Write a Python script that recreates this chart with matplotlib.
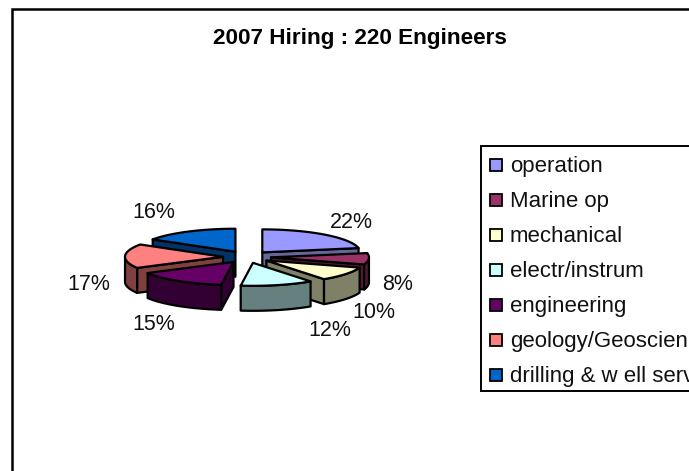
#!/usr/bin/env python3
"""2007 hiring pie, faked 3D exploded look like the old Excel chart."""
from __future__ import annotations

import matplotlib

matplotlib.use("Agg")
import matplotlib.pyplot as plt
import numpy as np
from matplotlib.patches import Polygon, Rectangle

TITLE = "2007 Hiring : 220 Engineers"
CATEGORIES = [
    "operation",
    "Marine op",
    "mechanical",
    "electr/instrum",
    "engineering",
    "geology/Geoscien",
    "drilling & w ell serv",
]
VALUES = [22, 8, 10, 12, 15, 17, 16]
TOP_COLORS = ["#9999FF", "#993366", "#FFFFCC", "#CCFFFF", "#660066", "#FF8080", "#0066CC"]
SIDE_COLORS = ["#666699", "#4D1933", "#808066", "#668080", "#330033", "#804040", "#003366"]

# slices back to front
DRAW_ORDER = [0, 6, 1, 5, 2, 4, 3]
LABEL_POS = [(351, 222), (398, 285), (374, 313), (330, 331), (154, 325), (89, 284), (154, 213)]

W, H = 689, 471
CX, CY = 247, 257
RX, RY = 98, 23
DEPTH = 25
EXPLODE_X, EXPLODE_Y = 24, 6
LW = 1.6


def _is_front(pts) -> bool:
    x, y = np.asarray(pts).T
    return 0.5 * np.sum(x * np.roll(y, -1) - np.roll(x, -1) * y) < 0


def _slice(ax, a0: float, a1: float, top: str, side: str) -> None:
    mid = 0.5 * (a0 + a1)
    ox = CX + EXPLODE_X * np.sin(mid)
    oy = CY - EXPLODE_Y * np.cos(mid)
    t = np.linspace(a0, a1, 60)
    rim = np.column_stack([ox + RX * np.sin(t), oy - RY * np.cos(t)])
    apex = np.array([ox, oy])
    down = np.array([0, DEPTH])

    walls = [
        [apex, rim[0], rim[0] + down, apex + down],
        [rim[-1], apex, apex + down, rim[-1] + down],
    ]
    for quad in walls:
        if _is_front(quad):
            ax.add_patch(Polygon(quad, fc=side, ec="black", lw=LW, joinstyle="round"))

    front = rim[np.cos(t) < 0]
    if len(front) > 1:
        wall = np.vstack([front, front[::-1] + down])
        ax.add_patch(Polygon(wall, fc=side, ec="black", lw=LW, joinstyle="round"))

    ax.add_patch(Polygon(np.vstack([apex, rim]), fc=top, ec="black", lw=LW, joinstyle="round"))


def main() -> None:
    plt.rcParams["font.family"] = ["Liberation Sans", "DejaVu Sans"]
    fig = plt.figure(figsize=(W / 100, H / 100), dpi=100)
    ax = fig.add_axes([0, 0, 1, 1])
    ax.set_xlim(0, W)
    ax.set_ylim(H, 0)
    ax.axis("off")

    # chart frame runs off the right and bottom of the picture
    ax.add_patch(Rectangle((12, 8.5), W, H, fc="white", ec="black", lw=1.8))
    ax.text(360, 38.5, TITLE, ha="center", va="center", fontsize=16.2, fontweight="bold")

    fracs = np.asarray(VALUES, dtype=float) / sum(VALUES)
    edges = np.concatenate([[0], np.cumsum(fracs)]) * 2 * np.pi
    for i in DRAW_ORDER:
        _slice(ax, edges[i], edges[i + 1], TOP_COLORS[i], SIDE_COLORS[i])

    for val, (x, y) in zip(VALUES, LABEL_POS):
        ax.text(x, y, f"{val}%", ha="center", va="center", fontsize=15.5, color="#111111")

    ax.add_patch(Rectangle((481, 146), W, 245, fc="white", ec="black", lw=1.4))
    for i, name in enumerate(CATEGORIES):
        y = 165 + i * 35
        ax.add_patch(Rectangle((489.5, y - 6), 12.5, 12, fc=TOP_COLORS[i], ec="black", lw=1.3))
        ax.text(510, y + 1.5, name, ha="left", va="center", fontsize=16, color="#111111")

    fig.savefig("out.png", dpi=100)
    plt.close(fig)


if __name__ == "__main__":
    main()
